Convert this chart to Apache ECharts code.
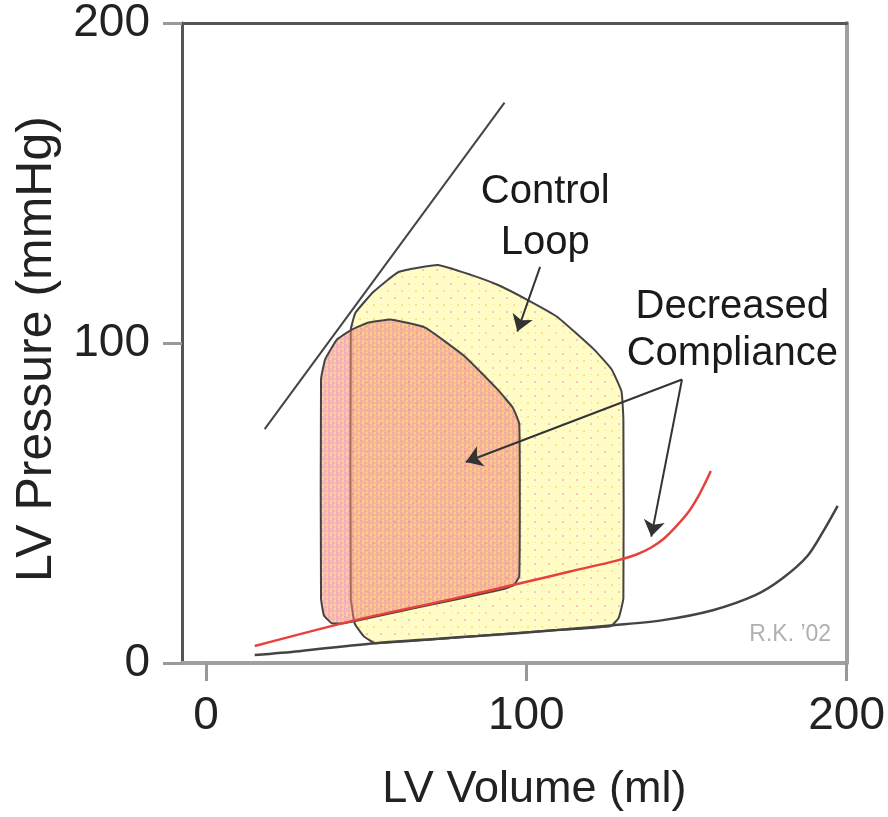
<!DOCTYPE html>
<html>
<head>
<meta charset="utf-8">
<script src="https://cdn.jsdelivr.net/npm/echarts@6/dist/echarts.min.js"></script>
<style>
html,body{margin:0;padding:0;background:#fff;}
#chart{width:888px;height:817px;}
</style>
</head>
<body>
<div id="chart"></div>
<script>
// ---- data (LV volume in ml, LV pressure in mmHg) ----
const xTicks = [0, 100, 200];
const yTicks = [0, 100, 200];

const controlLoopVolume   = [45.2, 46.7, 52.3, 60.1, 72.4, 82.7, 91.0, 100.3, 109.6, 121.1, 126.6, 129.7, 130.3, 130.3, 128.8, 126.3, 109.6, 84.8, 52.9, 49.2, 46.4, 45.2];
const controlLoopPressure = [104.2, 109.5, 116.0, 122.2, 124.4, 121.3, 118.2, 113.5, 108.2, 98.0, 91.8, 84.9, 76.2, 20.2, 14.0, 11.5, 10.3, 8.4, 6.2, 8.4, 12.4, 20.2];

const dcLoopVolume   = [35.9, 37.2, 40.9, 45.5, 50.8, 57.9, 68.4, 80.8, 91.0, 95.7, 97.8, 97.8, 96.0, 92.6, 66.3, 43.0, 39.3, 36.8, 35.9];
const dcLoopPressure = [88.6, 94.9, 101.1, 104.2, 106.4, 107.3, 104.8, 95.8, 85.5, 79.9, 74.7, 27.1, 24.3, 23.0, 17.4, 12.4, 12.4, 14.9, 20.2];

const controlEdpvrVolume   = [15.2, 29.1, 52.9, 84.8, 109.6, 127.2, 142.7, 158.2, 171.5, 179.9, 187.9, 193.2, 197.2];
const controlEdpvrPressure = [2.5, 3.7, 6.2, 8.4, 10.3, 11.8, 13.4, 16.5, 21.2, 26.4, 33.6, 42.0, 49.1];

const dcEdpvrVolume   = [15.2, 46.7, 77.7, 98.1, 113.6, 128.2, 134.4, 139.0, 143.0, 146.7, 150.5, 153.6, 156.0, 157.6];
const dcEdpvrPressure = [5.3, 13.4, 20.2, 24.9, 28.6, 32.0, 33.9, 36.1, 38.9, 42.6, 47.0, 51.9, 56.6, 60.0];

const espvrVolume   = [18.3, 93.2];
const espvrPressure = [73.1, 175.1];

// arrows: [fromVolume, fromPressure, toVolume, toPressure]
const controlArrow = [104.3, 123.8, 97.2, 103.6];
const dcArrowLoop  = [148.6, 88.6, 81.1, 62.8];
const dcArrowCurve = [148.6, 88.6, 139.0, 39.5];

// annotation labels: [volume, pressure, text]
const controlLabel = [105.9, 139.3, 'Control\nLoop'];
const dcLabel      = [164.3, 103.9, 'Decreased\nCompliance'];
const signLabel    = [182.4, 9.0, 'R.K. \u201902'];

// ---- helpers ----
const zip = (a, b) => a.map((v, i) => [v, b[i]]);
const FONT = '"Liberation Sans", Arial, Helvetica, sans-serif';

function makeTile(size, bg, cells) {
  const c = document.createElement('canvas');
  c.width = size; c.height = size;
  const g = c.getContext('2d');
  if (bg) { g.fillStyle = bg; g.fillRect(0, 0, size, size); }
  cells.forEach(d => { g.fillStyle = d[3]; g.fillRect(d[0], d[1], d[2], d[2]); });
  return c;
}
const controlTile = makeTile(14, '#fffcc6', [
  [2, 3, 2, '#f8c6c0'], [9, 10, 2, '#fde386'], [9, 3, 1, '#fbe9b0'], [3, 10, 1, '#f9d2c6']
]);
const dcCells = [];
const dcColors = ['rgba(240,112,118,0.58)', 'rgba(250,160,80,0.5)', 'rgba(232,110,140,0.52)', 'rgba(246,138,100,0.56)'];
for (let i = 0; i < 4; i++) for (let j = 0; j < 4; j++) {
  dcCells.push([i * 2, j * 2, 2, dcColors[(i * 3 + j * 2 + (i * j) % 3) % 4]]);
}
const dcTile = makeTile(8, null, dcCells);

function loopSeries(name, vols, pres, tile, z) {
  return {
    name, type: 'custom', z, silent: true,
    data: [[vols[0], pres[0]]],
    renderItem: function (params, api) {
      const pts = vols.map((v, i) => api.coord([v, pres[i]]));
      return {
        type: 'polygon',
        shape: { points: pts, smooth: 0.12 },
        style: { fill: { image: tile, repeat: 'repeat' }, stroke: '#444', lineWidth: 2 }
      };
    }
  };
}
function arrowSeries(arr) {
  return {
    type: 'lines', coordinateSystem: 'cartesian2d', z: 10, silent: true,
    symbol: ['none', 'arrow'], symbolSize: [11, 16],
    lineStyle: { color: '#333', width: 2, opacity: 1 },
    data: [{ coords: [[arr[0], arr[1]], [arr[2], arr[3]]] }]
  };
}

const chart = echarts.init(document.getElementById('chart'), null, { renderer: 'canvas' });
chart.setOption({
  animation: false,
  backgroundColor: '#fff',
  textStyle: { fontFamily: FONT },
  grid: { left: 182, top: 22, width: 670, height: 643, containLabel: false },
  xAxis: [{
    type: 'value', min: -7.5, max: 200, position: 'bottom',
    name: 'LV Volume (ml)', nameLocation: 'middle', nameGap: 104,
    nameTextStyle: { fontSize: 45, color: '#222', fontFamily: FONT, padding: [0, 0, 0, 40] },
    axisLine: { show: true, onZero: false, lineStyle: { color: '#a0a0a0', width: 4 } },
    axisTick: { show: true, customValues: xTicks, length: 18, lineStyle: { color: '#999', width: 3 } },
    axisLabel: { show: true, customValues: xTicks, fontSize: 46, color: '#222', margin: 30, fontFamily: FONT },
    splitLine: { show: false }
  }, {
    type: 'value', min: -7.5, max: 200, position: 'top',
    axisLine: { show: true, onZero: false, lineStyle: { color: '#555', width: 3 } },
    axisTick: { show: false }, axisLabel: { show: false }, splitLine: { show: false }
  }],
  yAxis: [{
    type: 'value', min: 0, max: 200, position: 'left',
    name: 'LV Pressure (mmHg)', nameLocation: 'middle', nameGap: 108,
    nameTextStyle: { fontSize: 50, color: '#222', fontFamily: FONT, padding: [0, 12, 0, 0] },
    axisLine: { show: true, onZero: false, lineStyle: { color: '#555', width: 3 } },
    axisTick: { show: true, customValues: yTicks, length: 19, lineStyle: { color: '#999', width: 3 } },
    axisLabel: { show: true, customValues: yTicks, fontSize: 46, color: '#222', margin: 32, fontFamily: FONT },
    splitLine: { show: false }
  }, {
    type: 'value', min: 0, max: 200, position: 'right',
    axisLine: { show: true, onZero: false, lineStyle: { color: '#a0a0a0', width: 4 } },
    axisTick: { show: false }, axisLabel: { show: false }, splitLine: { show: false }
  }],
  series: [
    loopSeries('Control Loop', controlLoopVolume, controlLoopPressure, controlTile, 2),
    loopSeries('Decreased Compliance', dcLoopVolume, dcLoopPressure, dcTile, 3),
    {
      type: 'line', z: 5, silent: true, symbol: 'none', smooth: 0.3,
      data: zip(controlEdpvrVolume, controlEdpvrPressure),
      lineStyle: { color: '#444', width: 2.5 }
    },
    {
      type: 'line', z: 6, silent: true, symbol: 'none', smooth: 0.3,
      data: zip(dcEdpvrVolume, dcEdpvrPressure),
      lineStyle: { color: '#e8403a', width: 2.5 }
    },
    {
      type: 'line', z: 6, silent: true, symbol: 'none',
      data: zip(espvrVolume, espvrPressure),
      lineStyle: { color: '#444', width: 2 }
    },
    arrowSeries(controlArrow),
    arrowSeries(dcArrowLoop),
    arrowSeries(dcArrowCurve)
  ]
});

// annotation texts placed at data coordinates through the chart's own scales
function placeText(lab, size, lh, color) {
  const p = chart.convertToPixel({ gridIndex: 0 }, [lab[0], lab[1]]);
  return {
    type: 'text', x: p[0], y: p[1], z: 100, silent: true,
    style: {
      text: lab[2], fontSize: size, lineHeight: lh, fill: color, fontFamily: FONT,
      align: 'center', verticalAlign: 'middle'
    }
  };
}
chart.setOption({
  graphic: [
    placeText(controlLabel, 40, 51, '#1a1a1a'),
    placeText(dcLabel, 40, 47, '#1a1a1a'),
    placeText(signLabel, 23, 24, '#b0b0b0')
  ]
});
</script>
</body>
</html>
